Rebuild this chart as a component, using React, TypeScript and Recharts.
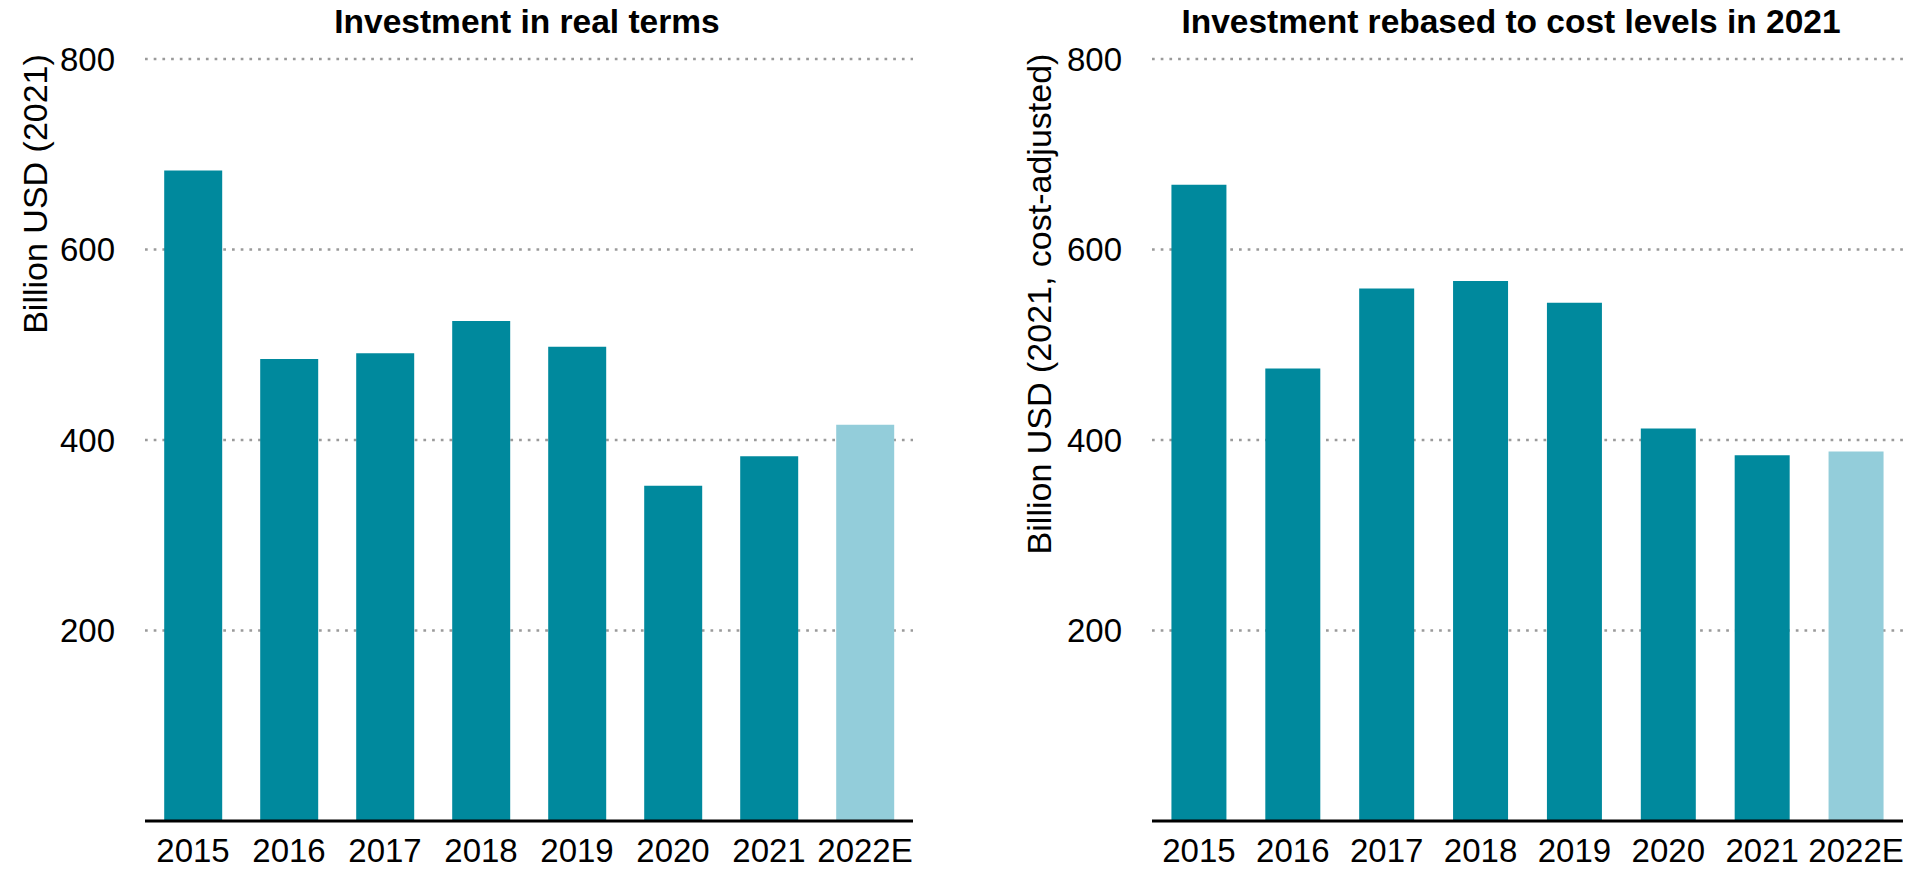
import { BarChart, Bar, XAxis, YAxis, CartesianGrid, Cell } from "recharts";

const years = ["2015", "2016", "2017", "2018", "2019", "2020", "2021", "2022E"];
const realTerms = [683, 485, 491, 525, 498, 352, 383, 416];
const costAdjusted = [668, 475, 559, 567, 544, 412, 384, 388];
const yTicks = [200, 400, 600, 800];

const TEAL = "#00899D";
const LIGHT = "#93CDDA";
const FONT = '"Liberation Sans", Arial, sans-serif';

const leftData = years.map((year, i) => ({ year, value: realTerms[i] }));
const rightData = years.map((year, i) => ({ year, value: costAdjusted[i] }));

interface PanelProps {
  data: { year: string; value: number }[];
  left: number;
  width: number;
  plotLeft: number;
  plotRight: number;
  title: string;
  titleX: number;
  yLabel: string;
  yLabelX: number;
  yLabelY: number;
  gap: string;
}

function Panel({ data, left, width, plotLeft, plotRight, title, titleX, yLabel, yLabelX, yLabelY, gap }: PanelProps) {
  return (
    <div style={{ position: "absolute", left, top: 0, width, height: 869 }}>
      <BarChart
        width={width}
        height={869}
        data={data}
        margin={{ top: 59, right: width - plotRight, bottom: 0, left: 0 }}
        barCategoryGap={gap}
      >
        <CartesianGrid
          vertical={false}
          stroke="#9a9a9a"
          strokeWidth={2.7}
          strokeDasharray="2.7 6"
          horizontalValues={yTicks}
        />
        <XAxis
          dataKey="year"
          height={48}
          axisLine={{ stroke: "#000", strokeWidth: 3 }}
          tickLine={false}
          tickSize={0}
          tickMargin={18}
          interval={0}
          tick={{ fill: "#000", fontSize: 33, fontFamily: FONT }}
        />
        <YAxis
          domain={[0, 800]}
          ticks={yTicks}
          axisLine={false}
          tickLine={false}
          tickSize={0}
          tickMargin={30}
          width={plotLeft}
          tick={{ fill: "#000", fontSize: 33, fontFamily: FONT }}
        />
        <Bar dataKey="value" isAnimationActive={false}>
          {data.map((d, i) => (
            <Cell key={`cell-${i}`} fill={d.year === "2022E" ? LIGHT : TEAL} />
          ))}
        </Bar>
      </BarChart>
      <svg width={width} height={869} style={{ position: "absolute", left: 0, top: 0, pointerEvents: "none" }}>
        <text x={titleX} y={33} textAnchor="middle" fontFamily={FONT} fontWeight="bold" fontSize={33.5} fill="#000">
          {title}
        </text>
        <text
          x={yLabelX}
          y={yLabelY}
          transform={`rotate(-90 ${yLabelX} ${yLabelY})`}
          textAnchor="middle"
          dominantBaseline="central"
          fontFamily={FONT}
          fontSize={34}
          fill="#000"
        >
          {yLabel}
        </text>
      </svg>
    </div>
  );
}

export default function App() {
  return (
    <div style={{ position: "absolute", left: 0, top: 0, width: 1914, height: 869, background: "#fff" }}>
      <Panel
        data={leftData}
        left={0}
        width={960}
        plotLeft={145}
        plotRight={913}
        title="Investment in real terms"
        titleX={527}
        yLabel="Billion USD (2021)"
        yLabelX={35}
        yLabelY={194}
        gap="20%"
      />
      <Panel
        data={rightData}
        left={960}
        width={954}
        plotLeft={192}
        plotRight={943}
        title="Investment rebased to cost levels in 2021"
        titleX={551}
        yLabel="Billion USD (2021, cost-adjusted)"
        yLabelX={79}
        yLabelY={304}
        gap="20.7%"
      />
    </div>
  );
}
